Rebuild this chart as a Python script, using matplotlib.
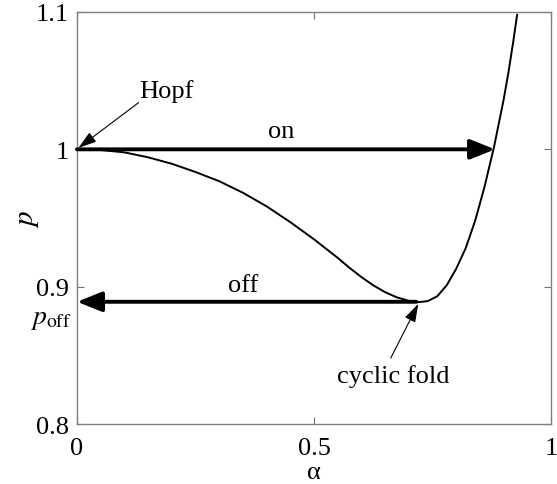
import matplotlib
matplotlib.use('Agg')
import matplotlib.pyplot as plt

plt.rcParams['font.family'] = ['Liberation Serif', 'DejaVu Serif']
plt.rcParams['mathtext.fontset'] = 'stix'

# branch of periodic orbits
alpha = [0, 0.05, 0.1, 0.15, 0.2, 0.25, 0.3, 0.35, 0.4, 0.45, 0.5, 0.55,
         0.575, 0.6, 0.625, 0.65, 0.675, 0.7, 0.72, 0.74, 0.76, 0.78, 0.8,
         0.82, 0.84, 0.86, 0.88, 0.9, 0.91, 0.92, 0.9286]
p = [1.0, 0.9995, 0.9978, 0.9942, 0.9895, 0.9835, 0.9768, 0.9684, 0.9585,
     0.947, 0.9345, 0.921, 0.9137, 0.907, 0.901, 0.896, 0.8922, 0.8897,
     0.8887, 0.8895, 0.893, 0.901, 0.913, 0.928, 0.948, 0.973, 1.002, 1.036,
     1.0555, 1.0775, 1.098]

hopf = (0.003, 1.001)
fold = (0.72, 0.8875)
on_end = 0.882
p_off = 0.889

xticks = [0, 0.5, 1]
xticklabels = ['0', '0.5', '1']
yticks = [0.8, 0.9, 1.0, 1.1]
yticklabels = ['0.8', '0.9', '1', '1.1']

fs = 19

fig = plt.figure(figsize=(5.57, 4.85), dpi=100)
ax = fig.add_axes([0.1382, 0.1237, 0.8510, 0.8495])

ax.plot(alpha, p, color='k', lw=1.4)

big = dict(arrowstyle='-|>,head_length=0.75,head_width=0.3', lw=2.8, color='k',
           shrinkA=0, shrinkB=0, mutation_scale=20)
ax.annotate('', xy=(on_end, 1.0), xytext=(0, 1.0), arrowprops=big)
ax.annotate('', xy=(0, p_off), xytext=(0.716, p_off), arrowprops=big)

ax.text(0.43, 1.005, 'on', ha='center', va='bottom', fontsize=fs)
ax.text(0.35, 0.8935, 'off', ha='center', va='bottom', fontsize=fs)

thin = dict(arrowstyle='-|>,head_length=0.7,head_width=0.22', lw=0.8,
            color='k', shrinkA=0, shrinkB=0, mutation_scale=16)
ax.text(0.132, 1.0384, 'Hopf', ha='left', va='baseline', fontsize=fs)
ax.annotate('', xy=hopf, xytext=(0.13, 1.034), arrowprops=thin)
ax.text(0.668, 0.8304, 'cyclic fold', ha='center', va='baseline', fontsize=fs)
ax.annotate('', xy=fold, xytext=(0.662, 0.848), arrowprops=thin)

ax.set_xlim(0, 1)
ax.set_ylim(0.8, 1.1)
ax.set_xticks(xticks)
ax.set_xticklabels(xticklabels, fontsize=fs)
ax.set_yticks(yticks)
ax.set_yticklabels(yticklabels, fontsize=fs)
ax.tick_params(direction='in', length=5, width=0.8, color='0.45',
               top=True, right=True)
ax.tick_params(axis='x', pad=9)
ax.tick_params(axis='y', pad=6)

ax.text(-0.012, 0.877, '$p_{\\mathrm{off}}$', ha='right', va='center', fontsize=fs + 1)

ax.set_xlabel('α', fontsize=fs, labelpad=2)
ax.set_ylabel('$p$', fontsize=fs + 2, labelpad=-4)

for s in ax.spines.values():
    s.set_color('0.5')
    s.set_linewidth(1.0)

fig.savefig('out.png', dpi=100)
